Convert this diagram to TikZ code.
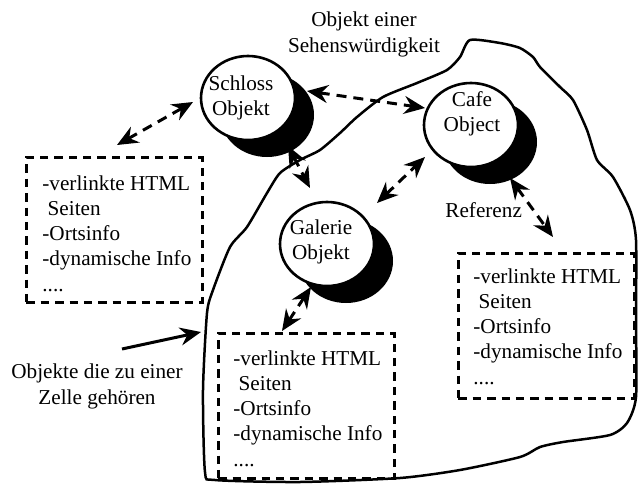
\documentclass[tikz,border=0pt]{standalone}
\usepackage{fontspec}
\setmainfont{Liberation Serif}
\usetikzlibrary{arrows.meta,shapes.geometric,shadows}
\begin{document}
\begin{tikzpicture}[x=0.5pt,y=-0.5pt,
  every node/.style={font=\fontsize{10.6pt}{12.6pt}\selectfont},
  obj/.style={ellipse, draw, line width=1.3pt, fill=white, minimum width=47pt, minimum height=42pt, inner sep=0pt,
    drop shadow={shadow xshift=9.5pt, shadow yshift=-8.5pt, fill=black, opacity=1}},
  objtext/.style={align=center, inner sep=0pt},
  infobox/.style={draw, dash pattern=on 4.2pt off 3pt, line width=1.3pt, minimum width=88pt, minimum height=72.5pt, inner sep=0pt, anchor=north west},
  infotext/.style={align=left, inner sep=0pt, anchor=base west},
  biarrow/.style={line width=1.5pt, dash pattern=on 5pt off 3.5pt, {Stealth[length=10.5pt,width=9pt,inset=3.5pt]}-{Stealth[length=10.5pt,width=9pt,inset=3.5pt]}},
  solidarrow/.style={line width=1.5pt, -{Stealth[length=10.5pt,width=9pt,inset=3.5pt]}},
  cellline/.style={line width=1.25pt}
]
\useasboundingbox (0,0) rectangle (638,483);

% cell boundary
\draw[cellline] plot[smooth cycle, tension=0.4] coordinates {
 (470,40) (500,43) (520,48) (533,57) (540,67) (560,87) (573,100) (587,130)
 (597,160) (613,177) (630,210) (636,240) (636,320) (636,397) (627,423) (610,435)
 (563,442) (540,447) (520,457) (460,470) (400,478) (300,482) (215,480) (205,472)
 (203,390) (207,313) (213,290) (230,247) (247,227) (267,193) (280,173) (300,160)
 (320,150) (340,133) (357,117) (383,97) (417,83) (447,70) (460,57)};

% objects
\node[obj] (schloss) at (248,98) {};
\node[objtext] (schlosst) at (241,98) {Schloss\\Objekt};
\node[obj] (cafe) at (471,125) {};
\node[objtext] (cafet) at (472,114) {Cafe\\Object};
\node[obj] (galerie) at (327,244) {};
\node[objtext] (galeriet) at (321,242) {Galerie\\Objekt};

% info boxes (text anchored at the baseline of its last line)
\node[infobox] (lbox) at (25,156) {};
\node[infotext] (ltext) at ([shift={(17,135)}]lbox.north west) {-verlinkte HTML\\\hspace{0.25em}Seiten\\-Ortsinfo\\-dynamische Info\\....};
\node[infobox] (bbox) at (217,332) {};
\node[infotext] (btext) at ([shift={(16,134)}]bbox.north west) {-verlinkte HTML\\\hspace{0.25em}Seiten\\-Ortsinfo\\-dynamische Info\\....};
\node[infobox] (rbox) at (457,252) {};
\node[infotext] (rtext) at ([shift={(16,132)}]rbox.north west) {-verlinkte HTML\\\hspace{0.25em}Seiten\\-Ortsinfo\\-dynamische Info\\....};

% labels
\node[align=center, inner sep=0pt, anchor=base] (sehens) at (364,52) {Objekt einer\\Sehenswürdigkeit};
\node[inner sep=0pt, anchor=base west] (referenz) at (445,217) {Referenz};
\node[align=center, inner sep=0pt, anchor=base] (zelle) at (97,404) {Objekte die zu einer\\Zelle gehören};

% arrow end points
\coordinate (a1s) at (117,145); \coordinate (a1e) at (193,102);
\coordinate (a2s) at (307,91);  \coordinate (a2e) at (425,108);
\coordinate (a3s) at (288,146); \coordinate (a3e) at (310,188);
\coordinate (a4s) at (377,203); \coordinate (a4e) at (425,157);
\coordinate (a5s) at (510,178); \coordinate (a5e) at (553,237);
\coordinate (a6s) at (311,287); \coordinate (a6e) at (282,331);
\coordinate (a7s) at (122,349); \coordinate (a7e) at (201,332);

\draw[biarrow] (a1s) -- (a1e);
\draw[biarrow] (a2s) -- (a2e);
\draw[biarrow] (a3s) -- (a3e);
\draw[biarrow] (a4s) -- (a4e);
\draw[biarrow] (a5s) -- (a5e);
\draw[biarrow] (a6s) -- (a6e);
\draw[solidarrow] (a7s) -- (a7e);
\end{tikzpicture}
\end{document}
